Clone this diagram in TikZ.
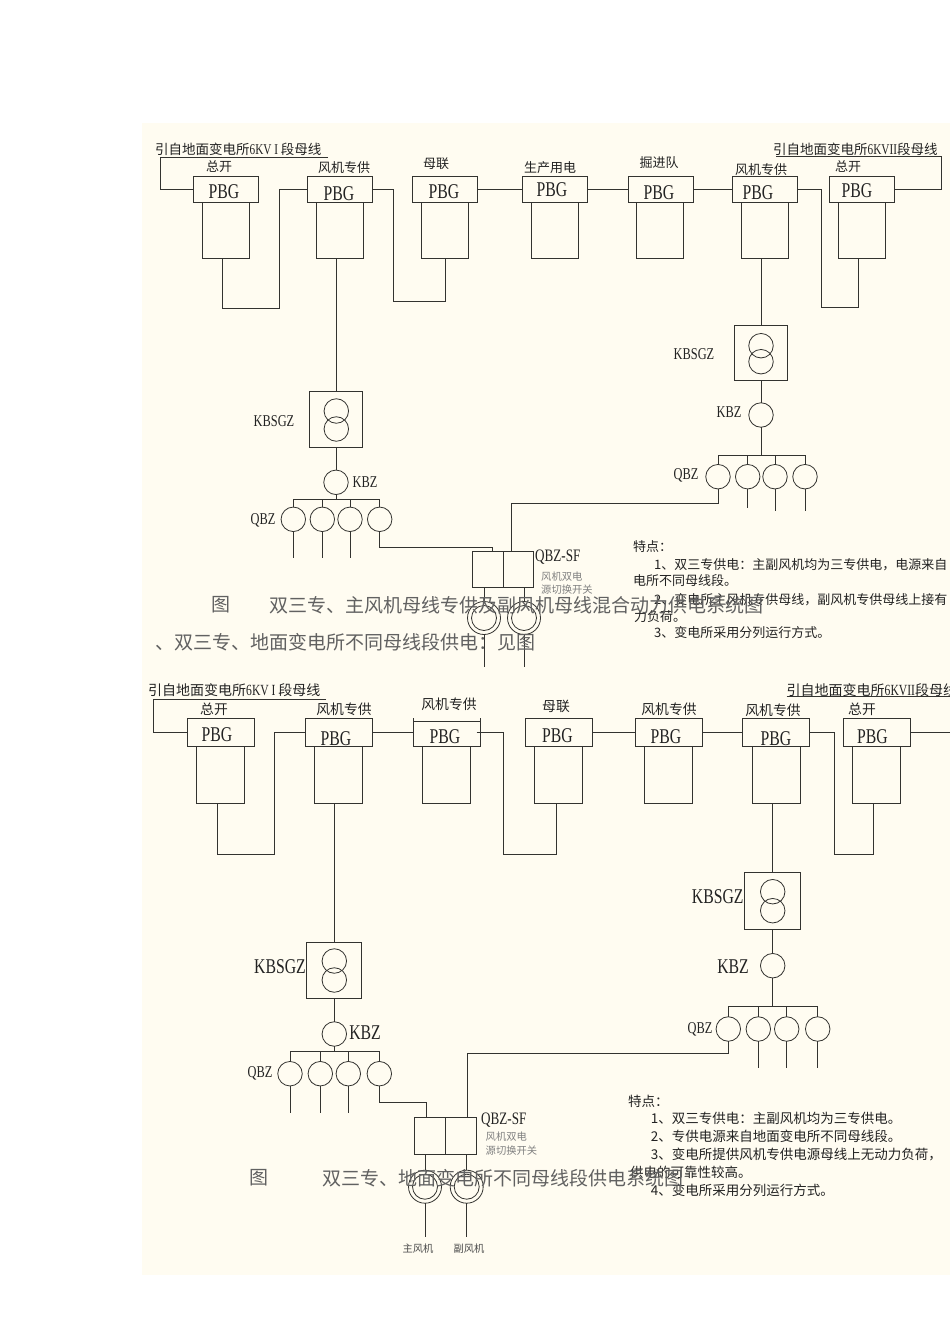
\documentclass[tikz,border=0pt]{standalone}
\usepackage{fontspec}
\setmainfont{Noto Sans CJK SC}
\newfontfamily\cadfont[FakeStretch=0.75]{Liberation Serif}
\definecolor{paper}{HTML}{FFFCF1}
\definecolor{wire}{HTML}{333330}
\definecolor{inktext}{HTML}{222222}
\tikzset{
  pbgbox/.style={draw=wire,line width=1pt,inner sep=0pt,outer sep=0pt,minimum width=65pt,minimum height=26pt},
  pbgboxb/.style={pbgbox,minimum width=67pt,minimum height=27.7pt},
  feedbox/.style={draw=wire,line width=1pt,inner sep=0pt,outer sep=0pt,minimum width=47pt,minimum height=55.5pt},
  feedboxb/.style={feedbox,minimum width=48pt,minimum height=57.3pt},
  sgzbox/.style={draw=wire,line width=1pt,inner sep=0pt,outer sep=0pt,minimum width=53pt,minimum height=55.5pt},
  sgzboxb/.style={sgzbox,minimum width=55.5pt,minimum height=56.5pt},
  swbox/.style={draw=wire,line width=1pt,inner sep=0pt,outer sep=0pt,minimum width=30.5pt,minimum height=35.5pt},
  swboxb/.style={swbox,minimum width=31pt,minimum height=36.3pt},
  mot/.style={circle,draw=wire,line width=.8pt,inner sep=0pt,outer sep=0pt,minimum size=24.5pt},
  ringout/.style={circle,draw=wire,line width=.8pt,inner sep=0pt,outer sep=0pt,minimum size=33pt},
  ringin/.style={circle,draw=wire,line width=.8pt,inner sep=0pt,outer sep=0pt,minimum size=25pt},
  wired/.style={draw=wire,line width=1pt},
  pbgtxt/.style={font=\cadfont\fontsize{21}{21}\selectfont,inner sep=0pt,text=inktext},
  cadtxt/.style={font=\cadfont\fontsize{16.5}{16.5}\selectfont,inner sep=0pt,text=inktext},
  cadbig/.style={font=\cadfont\fontsize{21}{21}\selectfont,inner sep=0pt,text=inktext},
  tagtxt/.style={font=\fontsize{13}{13}\selectfont,inner sep=0pt,text=inktext},
  tagtxtb/.style={tagtxt,font=\fontsize{13.8}{13.8}\selectfont},
  srctxt/.style={font=\fontsize{13.5}{13.5}\selectfont,inner sep=0pt,anchor=west,text=inktext},
  srctxtb/.style={srctxt,font=\fontsize{14}{14}\selectfont},
  smalltxt/.style={font=\fontsize{10.3}{10.3}\selectfont,inner sep=0pt,text=gray},
  notetxt/.style={font=\fontsize{13}{13}\selectfont,inner sep=0pt,anchor=west,text=inktext},
  notetxtb/.style={notetxt,font=\fontsize{13.5}{13.5}\selectfont},
  capttxt/.style={font=\fontsize{19}{19}\selectfont,inner sep=0pt,anchor=west,text=black!62},
}
\begin{document}
\begin{tikzpicture}[x=1pt,y=-1pt]
\useasboundingbox (0,0) rectangle (950,1344);
\fill[paper] (142,123) rectangle (950,1275);

% upper diagram
\node [pbgbox] (aPbgA) at (226,189.5) {};
\node [pbgbox] (aPbgB) at (339.5,189.5) {};
\node [pbgbox] (aPbgC) at (445,189.5) {};
\node [pbgbox] (aPbgD) at (555.25,189.5) {};
\node [pbgbox] (aPbgE) at (660.5,189.5) {};
\node [pbgbox] (aPbgF) at (764.5,189.5) {};
\node [pbgbox] (aPbgG) at (862,189.5) {};

\node [feedbox] (aFeedA) at (226,230.25) {};
\node [feedbox] (aFeedB) at (339.5,230.25) {};
\node [feedbox] (aFeedC) at (445,230.25) {};
\node [feedbox] (aFeedD) at (554.75,230.25) {};
\node [feedbox] (aFeedE) at (660,230.25) {};
\node [feedbox] (aFeedF) at (764.75,230.25) {};
\node [feedbox] (aFeedG) at (861.5,230.25) {};

\node [pbgtxt] (aTxtA) at (224,192) {PBG};
\node [pbgtxt] (aTxtB) at (339,194) {PBG};
\node [pbgtxt] (aTxtC) at (444,192) {PBG};
\node [pbgtxt] (aTxtD) at (552,190) {PBG};
\node [pbgtxt] (aTxtE) at (659,193) {PBG};
\node [pbgtxt] (aTxtF) at (758,193) {PBG};
\node [pbgtxt] (aTxtG) at (857,191) {PBG};

\node [tagtxt] (aTagA) at (219,167) {总开};
\node [tagtxt] (aTagB) at (344,168) {风机专供};
\node [tagtxt] (aTagC) at (436,164) {母联};
\node [tagtxt] (aTagD) at (550,168) {生产用电};
\node [tagtxt] (aTagE) at (659,163) {掘进队};
\node [tagtxt] (aTagF) at (761,170) {风机专供};
\node [tagtxt] (aTagG) at (848,167) {总开};

\node [srctxt] (aSrcL) at (155,149) {引自地面变电所{\cadfont\fontsize{15}{15}\selectfont 6KV I }段母线};
\node [srctxt] (aSrcR) at (773,149) {引自地面变电所{\cadfont\fontsize{15}{15}\selectfont 6KVII}段母线};

\coordinate (aBusLa) at (328,157.5);
\coordinate (aBusLb) at (160,157.5);
\coordinate (aBusRa) at (776,156);
\coordinate (aBusRb) at (941.5,156);
\draw [wired] (aBusLa) -- (aBusLb) |- (aPbgA.west);
\draw [wired] (aBusRa) -- (aBusRb) |- (aPbgG.east);

\coordinate (aLinkA) at (222,308);
\coordinate (aLinkB) at (279,308);
\draw [wired] (aFeedA.south -| aLinkA) -- (aLinkA) -- (aLinkB) |- (aPbgB.west);
\coordinate (aLinkC) at (393,301);
\coordinate (aLinkD) at (445,301);
\draw [wired] (aPbgB.east) -| (aLinkC) -- (aLinkD) -- (aFeedC.south);
\draw [wired] (aPbgC.east) -- (aPbgD.west);
\draw [wired] (aPbgD.east) -- (aPbgE.west);
\draw [wired] (aPbgE.east) -- (aPbgF.west);
\coordinate (aLinkE) at (821,307.5);
\coordinate (aLinkF) at (858,307.5);
\draw [wired] (aPbgF.east) -| (aLinkE) -- (aLinkF) -- (aFeedG.south -| aLinkF);

% upper left branch
\node [sgzbox] (aSgzL) at (335.8,419.5) {};
\node [mot] (aCoilLa) at (336.3,411) {};
\node [mot] (aCoilLb) at (336.3,429) {};
\node [mot] (aKbzL) at (336,482.3) {};
\node [mot] (aQbzLa) at (293.3,519.3) {};
\node [mot] (aQbzLb) at (322.3,519.3) {};
\node [mot] (aQbzLc) at (350,519.3) {};
\node [mot] (aQbzLd) at (379.7,519.3) {};
\node [cadtxt] (aLblSgzL) at (274,421) {KBSGZ};
\node [cadtxt] (aLblKbzL) at (365,482) {KBZ};
\node [cadtxt] (aLblQbzL) at (263,520) {QBZ};
\draw [wired] (aFeedB.south -| aKbzL) -- (aSgzL.north -| aKbzL);
\draw [wired] (aSgzL.south -| aKbzL) -- (aKbzL.north);
\coordinate (aBarL) at (336,499.3);
\draw [wired] (aKbzL.south) -- (aBarL);
\draw [wired] (aQbzLa.north) |- (aBarL) -| (aQbzLd.north);
\draw [wired] (aQbzLb.north) -- (aQbzLb.north |- aBarL);
\draw [wired] (aQbzLc.north) -- (aQbzLc.north |- aBarL);
\coordinate (aTailLa) at (293.3,557.7);
\coordinate (aTailLb) at (322.3,557.7);
\coordinate (aTailLc) at (350,557.7);
\draw [wired] (aQbzLa.south) -- (aTailLa);
\draw [wired] (aQbzLb.south) -- (aTailLb);
\draw [wired] (aQbzLc.south) -- (aTailLc);

% upper right branch
\node [sgzbox] (aSgzR) at (761,353) {};
\node [mot] (aCoilRa) at (761,345.7) {};
\node [mot] (aCoilRb) at (761,361.7) {};
\node [mot] (aKbzR) at (761,415) {};
\node [mot] (aQbzRa) at (718,476.7) {};
\node [mot] (aQbzRb) at (747.7,476.7) {};
\node [mot] (aQbzRc) at (775,476.7) {};
\node [mot] (aQbzRd) at (805,476.7) {};
\node [cadtxt] (aLblSgzR) at (694,354.3) {KBSGZ};
\node [cadtxt] (aLblKbzR) at (729,411.7) {KBZ};
\node [cadtxt] (aLblQbzR) at (686,475.7) {QBZ};
\draw [wired] (aFeedF.south -| aKbzR) -- (aSgzR.north);
\draw [wired] (aSgzR.south) -- (aKbzR.north);
\coordinate (aBarR) at (761,455.7);
\draw [wired] (aKbzR.south) -- (aBarR);
\draw [wired] (aQbzRa.north) |- (aBarR) -| (aQbzRd.north);
\draw [wired] (aQbzRb.north) -- (aQbzRb.north |- aBarR);
\draw [wired] (aQbzRc.north) -- (aQbzRc.north |- aBarR);
\coordinate (aTailRb) at (747.7,507.7);
\coordinate (aTailRc) at (775,510.7);
\coordinate (aTailRd) at (805,511);
\draw [wired] (aQbzRb.south) -- (aTailRb);
\draw [wired] (aQbzRc.south) -- (aTailRc);
\draw [wired] (aQbzRd.south) -- (aTailRd);

% upper change-over switch
\node [swbox] (aSwA) at (488,569.3) {};
\node [swbox] (aSwB) at (518.4,569.3) {};
\node [ringout] (aRingA) at (484,618) {};
\node [ringin] (aRingAi) at (484,618) {};
\node [ringout] (aRingB) at (524,618) {};
\node [ringin] (aRingBi) at (524,618) {};
\coordinate (aTailFa) at (484,667);
\coordinate (aTailFb) at (524,667);
\draw [wired] (aRingA.south) -- (aTailFa);
\draw [wired] (aRingB.south) -- (aTailFb);
\draw [wired] (aSwA.south -| aRingA) -- (aRingA.north);
\draw [wired] (aSwB.south -| aRingB) -- (aRingB.north);
\coordinate (aSupA) at (379.7,547.5);
\coordinate (aSupB) at (492.7,547.5);
\draw [wired] (aQbzLd.south) -- (aSupA) -- (aSupB) -- (aSwA.north -| aSupB);
\coordinate (aSupC) at (511.7,503);
\coordinate (aSupD) at (718,503);
\draw [wired] (aQbzRa.south) -- (aSupD) -- (aSupC) -- (aSwB.north -| aSupC);
\node [cadtxt,font=\cadfont\fontsize{17.5}{17.5}\selectfont,anchor=west] (aLblSw) at (535,557) {QBZ-SF};
\node [smalltxt,anchor=west] (aSwNoteA) at (541,576.7) {风机双电};
\node [smalltxt,anchor=west] (aSwNoteB) at (541,590) {源切换开关};

\node [notetxt] (aNoteA) at (633,547) {特点：};
\node [notetxt] (aNoteB) at (654,565) {1、双三专供电：主副风机均为三专供电，电源来自};
\node [notetxt] (aNoteC) at (633,581) {电所不同母线段。};
\node [notetxt] (aNoteD) at (654,600) {2、变电所主风机专供母线，副风机专供母线上接有};
\node [notetxt] (aNoteE) at (634,617) {力负荷。};
\node [notetxt] (aNoteF) at (654,633) {3、变电所采用分列运行方式。};

\node [capttxt] (aCapA) at (211,605) {图};
\node [capttxt] (aCapB) at (269,605) {双三专、主风机母线专供及副风机母线混合动力供电系统图};
\node [capttxt] (aCapC) at (155,642) {、双三专、地面变电所不同母线段供电：见图};

% lower diagram
\node [pbgboxb] (bPbgA) at (220.75,732.15) {};
\node [pbgboxb] (bPbgB) at (338.5,732.15) {};
\node [pbgboxb,minimum height=24.3pt] (bPbgC) at (447.15,733.85) {};
\node [pbgboxb] (bPbgD) at (558.85,732.15) {};
\node [pbgboxb] (bPbgE) at (668.5,732.15) {};
\node [pbgboxb] (bPbgF) at (776.15,732.15) {};
\node [pbgboxb] (bPbgG) at (876.8,732.15) {};

\coordinate (bTickA) at (413.65,718.3);
\coordinate (bTickB) at (480.65,718.3);
\draw [wired] (bPbgC.north west) -- (bTickA);
\draw [wired] (bPbgC.north east) -- (bTickB);

\node [feedboxb] (bFeedA) at (220.7,774.65) {};
\node [feedboxb] (bFeedB) at (338,774.65) {};
\node [feedboxb] (bFeedC) at (446.7,774.65) {};
\node [feedboxb] (bFeedD) at (558.3,774.65) {};
\node [feedboxb] (bFeedE) at (668.65,774.65) {};
\node [feedboxb] (bFeedF) at (776.2,774.65) {};
\node [feedboxb] (bFeedG) at (876.85,774.65) {};

\node [pbgtxt] (bTxtA) at (217,734.5) {PBG};
\node [pbgtxt] (bTxtB) at (336,738.5) {PBG};
\node [pbgtxt] (bTxtC) at (445,737) {PBG};
\node [pbgtxt] (bTxtD) at (557.5,736) {PBG};
\node [pbgtxt] (bTxtE) at (666,737) {PBG};
\node [pbgtxt] (bTxtF) at (776,739) {PBG};
\node [pbgtxt] (bTxtG) at (872.5,737) {PBG};

\node [tagtxtb] (bTagA) at (214,709) {总开};
\node [tagtxtb] (bTagB) at (344,709.5) {风机专供};
\node [tagtxtb] (bTagC) at (449,704) {风机专供};
\node [tagtxtb] (bTagD) at (556,706) {母联};
\node [tagtxtb] (bTagE) at (669,709) {风机专供};
\node [tagtxtb] (bTagF) at (773,710.5) {风机专供};
\node [tagtxtb] (bTagG) at (862,709) {总开};

\node [srctxtb] (bSrcL) at (148,690) {引自地面变电所{\cadfont\fontsize{15.5}{15.5}\selectfont 6KV I }段母线};
\node [srctxtb] (bSrcR) at (786.5,690) {引自地面变电所{\cadfont\fontsize{15.5}{15.5}\selectfont 6KVII}段母线};

\coordinate (bBusLa) at (326,699);
\coordinate (bBusLb) at (153.3,699);
\coordinate (bBusRa) at (786.7,696.7);
\coordinate (bBusRb) at (950,696.7);
\coordinate (bBusRc) at (950,732.15);
\draw [wired] (bBusLa) -- (bBusLb) |- (bPbgA.west);
\draw [wired] (bBusRa) -- (bBusRb);
\draw [wired] (bPbgG.east) -- (bBusRc);

\coordinate (bLinkA) at (217,854.3);
\coordinate (bLinkB) at (274.7,854.3);
\draw [wired] (bFeedA.south -| bLinkA) -- (bLinkA) -- (bLinkB) |- (bPbgB.west);
\draw [wired] (bPbgB.east) -- (bPbgB.east -| bPbgC.west);
\coordinate (bLinkS) at (476.7,732.15);
\coordinate (bLinkC) at (503.3,854.3);
\coordinate (bLinkD) at (556,854.3);
\draw [wired] (bLinkS) -| (bLinkC) -- (bLinkD) -- (bFeedD.south -| bLinkD);
\draw [wired] (bPbgD.east) -- (bPbgE.west);
\draw [wired] (bPbgE.east) -- (bPbgF.west);
\coordinate (bLinkE) at (834,854.3);
\coordinate (bLinkF) at (873,854.3);
\draw [wired] (bPbgF.east) -| (bLinkE) -- (bLinkF) -- (bFeedG.south -| bLinkF);

% lower left branch
\node [sgzboxb] (bSgzL) at (334.2,970.3) {};
\node [mot] (bCoilLa) at (334.3,961) {};
\node [mot] (bCoilLb) at (334.3,980) {};
\node [mot] (bKbzL) at (334.3,1034) {};
\node [mot] (bQbzLa) at (290,1073.7) {};
\node [mot] (bQbzLb) at (320.3,1073.7) {};
\node [mot] (bQbzLc) at (348.3,1073.7) {};
\node [mot] (bQbzLd) at (379.3,1073.7) {};
\node [cadbig] (bLblSgzL) at (280,967) {KBSGZ};
\node [cadbig] (bLblKbzL) at (365,1033) {KBZ};
\node [cadtxt] (bLblQbzL) at (260,1073) {QBZ};
\draw [wired] (bFeedB.south -| bKbzL) -- (bSgzL.north -| bKbzL);
\draw [wired] (bSgzL.south -| bKbzL) -- (bKbzL.north);
\coordinate (bBarL) at (334.3,1051.7);
\draw [wired] (bKbzL.south) -- (bBarL);
\draw [wired] (bQbzLa.north) |- (bBarL) -| (bQbzLd.north);
\draw [wired] (bQbzLb.north) -- (bQbzLb.north |- bBarL);
\draw [wired] (bQbzLc.north) -- (bQbzLc.north |- bBarL);
\coordinate (bTailLa) at (290,1112.7);
\coordinate (bTailLb) at (320.3,1112.7);
\coordinate (bTailLc) at (348.3,1112.7);
\draw [wired] (bQbzLa.south) -- (bTailLa);
\draw [wired] (bQbzLb.south) -- (bTailLb);
\draw [wired] (bQbzLc.south) -- (bTailLc);

% lower right branch
\node [sgzboxb] (bSgzR) at (772.5,901) {};
\node [mot] (bCoilRa) at (772.7,891.7) {};
\node [mot] (bCoilRb) at (772.7,910.7) {};
\node [mot] (bKbzR) at (772.7,965.7) {};
\node [mot] (bQbzRa) at (728.3,1029) {};
\node [mot] (bQbzRb) at (758.3,1029) {};
\node [mot] (bQbzRc) at (786.7,1029) {};
\node [mot] (bQbzRd) at (817.7,1029) {};
\node [cadbig] (bLblSgzR) at (717.7,896.7) {KBSGZ};
\node [cadbig] (bLblKbzR) at (733,967) {KBZ};
\node [cadtxt] (bLblQbzR) at (700,1029) {QBZ};
\draw [wired] (bFeedF.south -| bKbzR) -- (bSgzR.north -| bKbzR);
\draw [wired] (bSgzR.south -| bKbzR) -- (bKbzR.north);
\coordinate (bBarR) at (772.7,1006.7);
\draw [wired] (bKbzR.south) -- (bBarR);
\draw [wired] (bQbzRa.north) |- (bBarR) -| (bQbzRd.north);
\draw [wired] (bQbzRb.north) -- (bQbzRb.north |- bBarR);
\draw [wired] (bQbzRc.north) -- (bQbzRc.north |- bBarR);
\coordinate (bTailRb) at (758.3,1067.7);
\coordinate (bTailRc) at (786.7,1067.7);
\coordinate (bTailRd) at (817.7,1067.7);
\draw [wired] (bQbzRb.south) -- (bTailRb);
\draw [wired] (bQbzRc.south) -- (bTailRc);
\draw [wired] (bQbzRd.south) -- (bTailRd);

% lower change-over switch
\node [swboxb] (bSwA) at (429.5,1135.85) {};
\node [swboxb] (bSwB) at (460.5,1135.85) {};
\node [ringout] (bRingA) at (425,1186.7) {};
\node [ringin] (bRingAi) at (425,1186.7) {};
\node [ringout] (bRingB) at (466.7,1186.7) {};
\node [ringin] (bRingBi) at (466.7,1186.7) {};
\coordinate (bTailFa) at (425,1237);
\coordinate (bTailFb) at (466.7,1237);
\draw [wired] (bRingA.south) -- (bTailFa);
\draw [wired] (bRingB.south) -- (bTailFb);
\draw [wired] (bSwA.south -| bRingA) -- (bRingA.north);
\draw [wired] (bSwB.south -| bRingB) -- (bRingB.north);
\coordinate (bSupA) at (379.3,1102);
\coordinate (bSupB) at (426.7,1102);
\draw [wired] (bQbzLd.south) -- (bSupA) -- (bSupB) -- (bSwA.north -| bSupB);
\coordinate (bSupC) at (467.3,1053.5);
\coordinate (bSupD) at (728.3,1053.5);
\draw [wired] (bQbzRa.south) -- (bSupD) -- (bSupC) -- (bSwB.north -| bSupC);
\node [cadtxt,font=\cadfont\fontsize{17.5}{17.5}\selectfont,anchor=west] (bLblSw) at (481,1120) {QBZ-SF};
\node [smalltxt,anchor=west] (bSwNoteA) at (485.5,1136.7) {风机双电};
\node [smalltxt,anchor=west] (bSwNoteB) at (485.5,1151) {源切换开关};
\node [smalltxt,text=black!70] (bFanA) at (418,1249) {主风机};
\node [smalltxt,text=black!70] (bFanB) at (469,1249) {副风机};

\node [notetxtb] (bNoteA) at (628,1101.7) {特点：};
\node [notetxtb] (bNoteB) at (650.7,1118) {1、双三专供电：主副风机均为三专供电。};
\node [notetxtb] (bNoteC) at (650.7,1136.7) {2、专供电源来自地面变电所不同母线段。};
\node [notetxtb] (bNoteD) at (650.7,1154.3) {3、变电所提供风机专供电源母线上无动力负荷，};
\node [notetxtb] (bNoteE) at (630,1172.7) {供电的可靠性较高。};
\node [notetxtb] (bNoteF) at (650.7,1190.7) {4、变电所采用分列运行方式。};

\node [capttxt] (bCapA) at (249,1178) {图};
\node [capttxt] (bCapB) at (322,1178) {双三专、地面变电所不同母线段供电系统图};
\end{tikzpicture}
\end{document}
